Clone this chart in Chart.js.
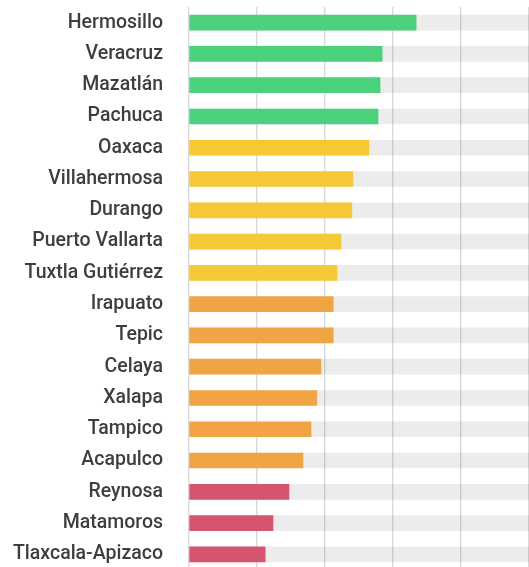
<!DOCTYPE html>
<html>
<head>
<meta charset="utf-8">
<script src="https://cdn.jsdelivr.net/npm/chart.js@4"></script>
<style>
  html, body { margin: 0; padding: 0; background: #fff; overflow: hidden; }
  canvas { display: block; }
</style>
</head>
<body>
<canvas id="cities" width="529" height="570"></canvas>
<script>
// cities, top to bottom
const cities = [
  'Hermosillo', 'Veracruz', 'Mazatlán', 'Pachuca', 'Oaxaca', 'Villahermosa',
  'Durango', 'Puerto Vallarta', 'Tuxtla Gutiérrez', 'Irapuato', 'Tepic',
  'Celaya', 'Xalapa', 'Tampico', 'Acapulco', 'Reynosa', 'Matamoros',
  'Tlaxcala-Apizaco'
];
const values = [
  66.8, 56.8, 56.2, 55.6, 52.9, 48.2,
  47.9, 44.7, 43.5, 42.4, 42.4,
  38.8, 37.6, 35.9, 33.5, 29.4, 24.7,
  22.4
];
// color group per city
const groups = [
  'high', 'high', 'high', 'high', 'midhigh', 'midhigh',
  'midhigh', 'midhigh', 'midhigh', 'midlow', 'midlow',
  'midlow', 'midlow', 'midlow', 'midlow', 'low', 'low',
  'low'
];
const scaleMax = 100;
const gridStep = 20;

const groupColors = {
  high: '#4bd17b',
  midhigh: '#f5c935',
  midlow: '#f0a443',
  low: '#d5556f'
};
const track = cities.map(() => scaleMax);

const ctx = document.getElementById('cities').getContext('2d');
const chart = new Chart(ctx, {
  type: 'bar',
  data: {
    labels: cities,
    datasets: [{
      label: 'valor',
      data: values,
      backgroundColor: groups.map(g => groupColors[g]),
      barThickness: 15,
      grouped: false,
      order: 0
    }, {
      label: 'fondo',
      data: track,
      backgroundColor: 'rgba(0,0,0,0.075)',
      barThickness: 15,
      grouped: false,
      order: 1
    }]
  },
  options: {
    indexAxis: 'y',
    responsive: false,
    animation: false,
    layout: { padding: { top: 7, right: 0, bottom: 0, left: 0 } },
    plugins: {
      legend: { display: false },
      tooltip: { enabled: false }
    },
    scales: {
      x: {
        min: 0,
        max: scaleMax,
        ticks: { display: false, stepSize: gridStep },
        grid: { color: '#d9d9d9', lineWidth: 1.4, drawTicks: false },
        border: { display: false },
        afterFit: function(scale) { scale.height = 0; }
      },
      y: {
        ticks: {
          color: '#3e3e3e',
          padding: 26,
          font: { family: 'Roboto', size: 19.5, weight: '500' }
        },
        grid: { display: false, drawTicks: false },
        border: { display: false },
        afterFit: function(scale) {
          scale.width = 189;
          scale.paddingTop = 0;
          scale.paddingBottom = 0;
        }
      }
    }
  }
});
</script>
</body>
</html>
